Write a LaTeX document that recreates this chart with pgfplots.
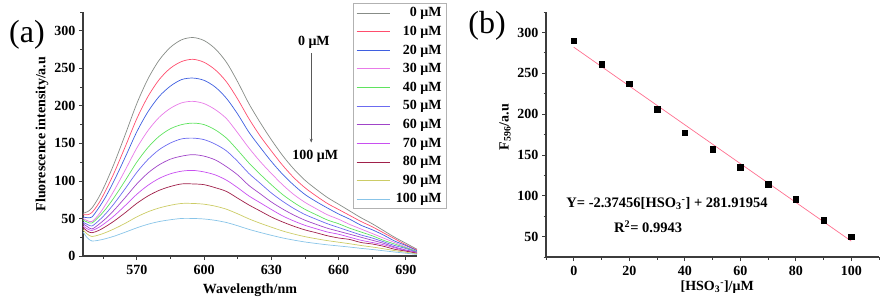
\documentclass[border=0pt]{standalone}
\usepackage{fontspec}
\setmainfont{Liberation Serif}
\usepackage{pgfplots}
\pgfplotsset{compat=1.18}
\usepackage{pgfplotstable}
\usetikzlibrary{arrows.meta}

\definecolor{c0}{RGB}{135,140,135}
\definecolor{c10}{RGB}{255,77,109}
\definecolor{c20}{RGB}{63,95,224}
\definecolor{c30}{RGB}{232,123,232}
\definecolor{c40}{RGB}{95,227,95}
\definecolor{c50}{RGB}{107,107,240}
\definecolor{c60}{RGB}{160,68,200}
\definecolor{c70}{RGB}{200,79,240}
\definecolor{c80}{RGB}{160,32,74}
\definecolor{c90}{RGB}{204,204,102}
\definecolor{c100}{RGB}{136,196,232}
\definecolor{fitc}{RGB}{255,111,143}
\definecolor{axc}{RGB}{60,60,60}

\pgfplotstableread{
w c0 c10 c20 c30 c40 c50 c60 c70 c80 c90 c100
546 57 55 52 50 48 45 43 40 38 35 32
548 59 55 51 47 45 42 39 36 33 29 24
550 64 58 52 46 44 40 36 34 31 26 20
553 78 70 64 55 52 47 42 38 34 28 21
556 96 86.5 78.2 68 62 55.9 49.5 44.2 39 31.1 23
560 124 111.6 101 87.8 78.4 70.2 61.5 53.8 46.8 36.3 26.5
565 163 146.7 132.7 115.4 101.3 90.4 78.4 67.7 58.1 43.8 31.9
570 203 182.9 165.4 143.8 125 111.4 96 82.2 70.1 52.1 37.5
575 236 212.5 192.2 167.1 144.6 128.6 110.6 94.2 80 58.9 42.3
580 261 235 212.6 184.8 159.5 141.7 121.5 103.4 87.5 64 45.9
585 278 250.2 226.3 196.7 169.5 150.5 129 109.5 92.6 67.6 48.3
590 288 259 235 204 175 156 133 113 96 70 50
595 291 262 237 206 177 157 135 114 96 70 50
600 287 258 234 203 175 155 133 112 95 69 49.3
605 276 248 225 195 168 149 128 108 91 66.4 47.5
610 258 232 210 183 157 140 119 101 86 62.3 44.6
615 232 209 189 164 141 126 108 91 77 56.2 40.3
620 203 183 165 144 124 110 94 80 68 49.5 35.5
625 178 160 145 126 109 97 83 71 60 43.7 31.4
630 155 140 126 110 95 84 72 62 52 38.4 27.6
635 134 121 109 95 82 73 62.7 53.5 45.4 33.4 24.1
640 116 104.5 94.5 82 71.3 63.4 54.6 46.7 39.7 29.3 21.2
645 101 91 82 71.5 62.2 55.3 47.7 40.9 34.8 25.8 18.7
650 89 80 72.5 63 55 49 42.2 36.3 31 23 16.7
655 78 70 64 55 48 43 37 32 27 20.5 14.9
660 69 62 56 49 43 38 33 29 24 18.4 13.4
665 60 54 49 42 37 33 29 25 22 16.3 11.9
670 51 46 41 36 32 28 25 21 18 14 10.2
675 43 39 35 30 27 24 21 18 16 12 8.7
680 34 31 28 24 21 19 17 15 13 9.7 7
685 25 23 20 18 16 14 12 11 9 7.2 5.3
690 17 15 14 12 11 10 8 7 6.5 5 3.7
695 9 8 7 6 6 5 5 4 3.6 2.9 2.1
}\spectra

\pgfplotstableread{
x y
0 290
10 261
20 237
30 206
40 177
50 157
60 135
70 114
80 96
90 70
100 50
}\pointsb

\pgfplotsset{
  every axis/.append style={
    scale only axis,
    axis x line*=bottom, axis y line*=left,
    axis line style={line width=1.2pt, axc},
    tick align=outside,
    tick style={line width=0.8pt, axc},
    major tick length=4pt, minor tick length=2.5pt,
    ticklabel style={font=\fontsize{14}{16}\selectfont\bfseries},
    xticklabel style={yshift=-2pt},
    label style={font=\fontsize{14}{17}\selectfont\bfseries},
    /pgf/number format/assume math mode=true,
  },
  sp/.style={smooth, line width=0.7pt, no marks},
}

\begin{document}
\begin{tikzpicture}
\useasboundingbox (0,0) rectangle (884pt,306pt);
\node[font=\fontsize{32}{36}\selectfont] at (27pt,271pt) {(a)};
\node[font=\fontsize{32}{36}\selectfont] at (487pt,280pt) {(b)};

\begin{axis}[
  at={(83pt,50pt)}, anchor=south west,
  width=334pt, height=244pt,
  xmin=546, xmax=695, ymin=0, ymax=325,
  xtick={570,600,630,660,690}, minor xtick={555,585,615,645,675},
  ytick={0,50,...,300}, minor ytick={25,75,...,325},
  xlabel={Wavelength/nm}, ylabel={Fluorescence intensity/a.u},
  xlabel style={at={(axis description cs:0.5,-0.139)}, anchor=center},
  ylabel style={at={(axis description cs:-0.123,0.5)}, anchor=center},
  legend cell align=right,
  legend style={at={(axis description cs:0.808,1.037)}, anchor=north west,
    draw=gray!60, line width=0.8pt, fill=white,
    font=\fontsize{14}{16}\selectfont\bfseries,
    nodes={inner ysep=1.2pt, inner xsep=2pt},
    row sep=5.4pt, inner xsep=3pt, inner ysep=3pt,
    /tikz/every odd column/.append style={column sep=4pt}},
  legend image code/.code={\draw[#1, line width=0.7pt] (0pt,0pt) -- (33pt,0pt);},
]
\addplot[sp, c0] table[x=w,y=c0] {\spectra}; \addlegendentry{0 μM}
\addplot[sp, c10] table[x=w,y=c10] {\spectra}; \addlegendentry{10 μM}
\addplot[sp, c20] table[x=w,y=c20] {\spectra}; \addlegendentry{20 μM}
\addplot[sp, c30] table[x=w,y=c30] {\spectra}; \addlegendentry{30 μM}
\addplot[sp, c40] table[x=w,y=c40] {\spectra}; \addlegendentry{40 μM}
\addplot[sp, c50] table[x=w,y=c50] {\spectra}; \addlegendentry{50 μM}
\addplot[sp, c60] table[x=w,y=c60] {\spectra}; \addlegendentry{60 μM}
\addplot[sp, c70] table[x=w,y=c70] {\spectra}; \addlegendentry{70 μM}
\addplot[sp, c80] table[x=w,y=c80] {\spectra}; \addlegendentry{80 μM}
\addplot[sp, c90] table[x=w,y=c90] {\spectra}; \addlegendentry{90 μM}
\addplot[sp, c100] table[x=w,y=c100] {\spectra}; \addlegendentry{100 μM}
\node[font=\fontsize{14}{16}\selectfont\bfseries] at (axis cs:649,284) {0 μM};
\node[font=\fontsize{14}{16}\selectfont\bfseries] at (axis cs:649.6,133) {100 μM};
\draw[-{Stealth[length=4pt,width=3pt]}, gray!70!black, line width=0.5pt]
  (axis cs:647.8,270) -- (axis cs:647.8,151);
\end{axis}

\begin{axis}[
  at={(546pt,49pt)}, anchor=south west,
  width=333pt, height=245pt,
  xmin=-10, xmax=110, ymin=25, ymax=325,
  xtick={0,20,...,100}, minor xtick={-10,10,...,110},
  ytick={50,100,...,300}, minor ytick={25,75,...,325},
  xlabel={[HSO\textsubscript{3}\textsuperscript{-}]/μM},
  ylabel={F\textsubscript{596}/a.u},
  xlabel style={at={(axis description cs:0.514,-0.122)}, anchor=center},
  ylabel style={at={(axis description cs:-0.123,0.53)}, anchor=center},
]
\addplot[fitc, line width=0.7pt, no marks] coordinates {(0,281.92) (100,44.46)};
\addplot[only marks, mark=square*, mark size=2.8pt, black] table[x=x,y=y] {\pointsb};
\node[font=\fontsize{14.5}{16}\selectfont\bfseries] at (axis cs:33.6,90.5)
  {Y= -2.37456[HSO\textsubscript{3}\textsuperscript{-}] + 281.91954};
\node[font=\fontsize{14.5}{16}\selectfont\bfseries] at (axis cs:26.8,62)
  {R\textsuperscript{2}= 0.9943};
\end{axis}
\end{tikzpicture}
\end{document}
